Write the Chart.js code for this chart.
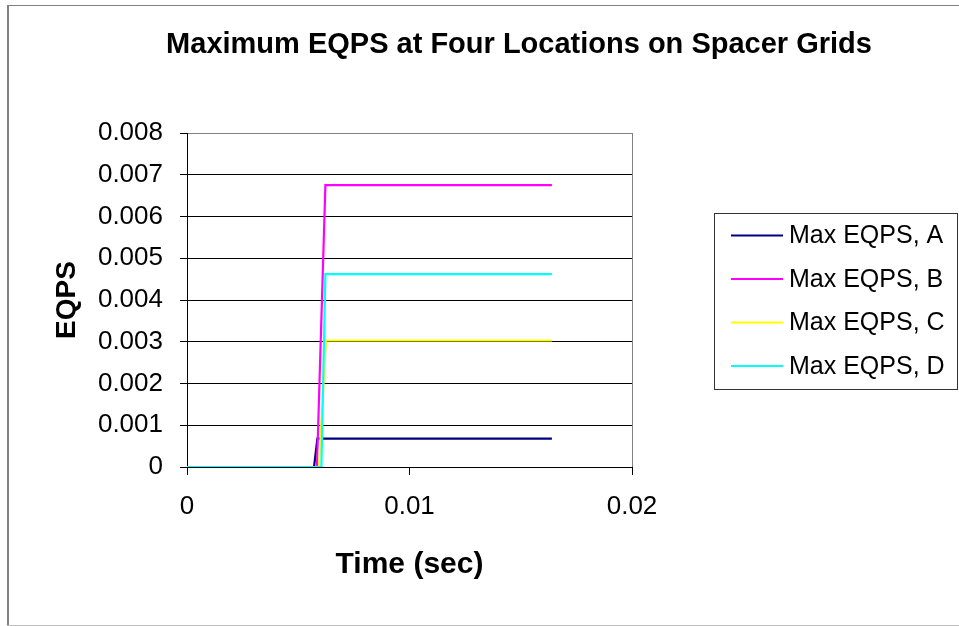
<!DOCTYPE html>
<html>
<head>
<meta charset="utf-8">
<script src="https://cdn.jsdelivr.net/npm/chart.js@4"></script>
<style>
  body { margin: 0; background: #fff; }
  canvas { display: block; }
</style>
</head>
<body>
<canvas id="myChart" width="959" height="626"></canvas>
<script>
// data
const chartTitle = 'Maximum EQPS at Four Locations on Spacer Grids';
const xTitle = 'Time (sec)';
const yTitle = 'EQPS';
const seriesNames = ['Max EQPS, A', 'Max EQPS, B', 'Max EQPS, C', 'Max EQPS, D'];
const seriesColors = ['#000080', '#ff00ff', '#ffff00', '#00ffff'];

const timeA = [0, 0.00571, 0.00586, 0.0164];
const eqpsA = [0, 0, 0.00068, 0.00068];
const timeB = [0, 0.00584, 0.00622, 0.0164];
const eqpsB = [0, 0, 0.00675, 0.00675];
const timeC = [0, 0.00593, 0.00624, 0.0164];
const eqpsC = [0, 0, 0.00303, 0.00303];
const timeD = [0, 0.00604, 0.00622, 0.0164];
const eqpsD = [0, 0, 0.00462, 0.00462];

const xTickLabels = ['0', '0.01', '0.02'];
const yTickLabels = ['0', '0.001', '0.002', '0.003', '0.004', '0.005', '0.006', '0.007', '0.008'];

const FONT = "'Liberation Sans', Arial, sans-serif";

function pts(xs, ys) {
  return xs.map((x, i) => ({x: x, y: ys[i]}));
}
const allTimes = [timeA, timeB, timeC, timeD];
const allEqps = [eqpsA, eqpsB, eqpsC, eqpsD];

const datasets = seriesNames.map((name, i) => ({
  label: name,
  data: pts(allTimes[i], allEqps[i]),
  borderColor: seriesColors[i],
  backgroundColor: seriesColors[i],
  borderWidth: 2.2,
  showLine: true,
  pointRadius: 0,
  order: seriesNames.length - i
}));

// frame, title and boxed legend, Excel style
const excelBits = {
  id: 'excelBits',
  beforeDraw(chart) {
    const c = chart.ctx;
    c.save();
    c.fillStyle = '#fff';
    c.fillRect(0, 0, chart.width, chart.height);
    c.strokeStyle = '#808080';
    c.lineWidth = 2;
    c.beginPath();
    c.moveTo(8, 5); c.lineTo(8, 626);
    c.stroke();
    c.lineWidth = 1;
    c.beginPath();
    c.moveTo(7, 5.5); c.lineTo(959, 5.5);
    c.stroke();
    c.strokeStyle = '#c0c0c0';
    c.beginPath();
    c.moveTo(7, 625.5); c.lineTo(959, 625.5);
    c.stroke();
    c.restore();
  },
  afterDraw(chart) {
    const c = chart.ctx;
    c.save();
    c.fillStyle = '#000';
    c.font = 'bold 29px ' + FONT;
    c.textAlign = 'center';
    c.textBaseline = 'alphabetic';
    c.fillText(chartTitle, 519, 53);

    // legend
    c.strokeStyle = '#333';
    c.lineWidth = 1;
    c.strokeRect(714.5, 213.5, 243, 176);
    c.font = '25px ' + FONT;
    c.textAlign = 'left';
    c.textBaseline = 'middle';
    chart.data.datasets.forEach((ds, i) => {
      const y = 235.5 + i * 43.5;
      c.strokeStyle = ds.borderColor;
      c.lineWidth = 2;
      c.beginPath();
      c.moveTo(731, y); c.lineTo(783, y);
      c.stroke();
      c.fillStyle = '#000';
      c.fillText(ds.label, 789, y + 1);
    });
    c.restore();
  }
};

const ctx1 = document.getElementById('myChart').getContext('2d');
const graph = new Chart(ctx1, {
  type: 'scatter',
  data: { datasets: datasets },
  plugins: [excelBits],
  options: {
    responsive: false,
    animation: false,
    layout: { padding: { left: 0, top: 133, right: 327, bottom: 0 } },
    plugins: {
      legend: { display: false },
      tooltip: { enabled: false }
    },
    scales: {
      x: {
        type: 'linear',
        position: 'bottom',
        min: 0,
        max: 0.02,
        afterFit: (s) => { s.height = 159; },
        ticks: {
          stepSize: 0.01,
          color: '#000',
          padding: 16,
          font: { family: FONT, size: 26 },
          maxRotation: 0,
          callback: (v, i) => xTickLabels[i]
        },
        grid: {
          drawOnChartArea: true,
          color: (ctx) => (ctx.tick && ctx.tick.value === 0.02) ? '#808080' : 'rgba(0,0,0,0)',
          tickColor: '#000',
          tickLength: 8,
          lineWidth: 1
        },
        border: { color: '#000', width: 1 },
        title: {
          display: true,
          text: xTitle,
          color: '#000',
          font: { family: FONT, size: 30, weight: 'bold', lineHeight: 1 },
          padding: { top: 0, bottom: 46 }
        }
      },
      y: {
        type: 'linear',
        position: 'left',
        min: 0,
        max: 0.008,
        afterFit: (s) => { s.width = 187; },
        ticks: {
          stepSize: 0.001,
          color: '#000',
          padding: 17,
          font: { family: FONT, size: 26 },
          callback: (v, i) => yTickLabels[i]
        },
        grid: {
          color: (ctx) => (ctx.tick && ctx.tick.value >= 0.008) ? '#808080' : '#000',
          tickColor: '#000',
          tickLength: 7,
          lineWidth: 1
        },
        border: { color: '#000', width: 1 },
        title: {
          display: true,
          text: yTitle,
          color: '#000',
          font: { family: FONT, size: 28, weight: 'bold', lineHeight: 1 },
          padding: { top: 53, bottom: 0 }
        }
      }
    }
  }
});
</script>
</body>
</html>
